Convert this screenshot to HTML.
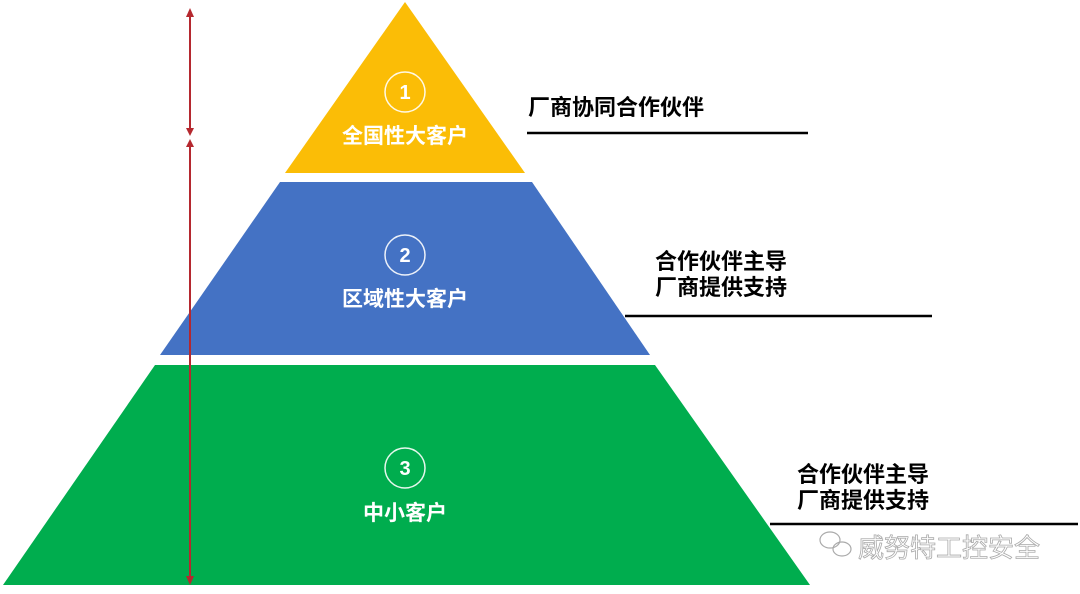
<!DOCTYPE html>
<html><head><meta charset="utf-8"><style>
html,body{margin:0;padding:0;background:#fff;}
svg{display:block;}
text{font-family:"Liberation Sans","Noto Sans CJK SC",sans-serif;font-weight:bold;}
</style></head><body>
<svg width="1080" height="594" viewBox="0 0 1080 594" xmlns="http://www.w3.org/2000/svg">
<polygon points="405,2 525,173 285,173" fill="#fbbd06"/>
<polygon points="280,182 532,182 650,355 160,355" fill="#4472c4"/>
<polygon points="155,365 655,365 810,585 3,585" fill="#00ad4e"/>
<g stroke="#b5282f" stroke-width="2" fill="#b5282f">
<line x1="190" y1="12" x2="190" y2="134"/>
<line x1="190" y1="141" x2="190" y2="582"/>
<polygon points="190,8 186,17 194,17" stroke="none"/>
<polygon points="190,136 186,128 194,128" stroke="none"/>
<polygon points="190,139 186,147 194,147" stroke="none"/>
<polygon points="190,585 186,576 194,576" stroke="none"/>
</g>
<g fill="none" stroke="#fff" stroke-width="1.5" opacity="0.9">
<circle cx="405" cy="92" r="20"/>
<circle cx="405" cy="255" r="20"/>
<circle cx="405" cy="468" r="20"/>
</g>
<g fill="#fff" text-anchor="middle" font-size="20">
<text x="405" y="99">1</text>
<text x="405" y="262">2</text>
<text x="405" y="475">3</text>
</g>
<g fill="#fff" text-anchor="middle" font-size="21">
<text x="405" y="143">全国性大客户</text>
<text x="405" y="306">区域性大客户</text>
<text x="405" y="520">中小客户</text>
</g>
<g stroke="#000" stroke-width="2.5">
<line x1="527" y1="133" x2="808" y2="133"/>
<line x1="625" y1="316" x2="932" y2="316"/>
<line x1="770" y1="524" x2="1078" y2="524"/>
</g>
<g fill="#000" font-size="22">
<text x="528" y="115">厂商协同合作伙伴</text>
<text x="655" y="269">合作伙伴主导</text>
<text x="655" y="295">厂商提供支持</text>
<text x="797" y="482">合作伙伴主导</text>
<text x="797" y="508">厂商提供支持</text>
</g>
<text x="858" y="557" font-size="26" fill="#fff" stroke="#aaa" stroke-width="0.8" style="font-weight:normal">威努特工控安全</text>
<g fill="none" stroke="#aaa" stroke-width="1.2">
<ellipse cx="830" cy="540" rx="10" ry="8"/>
<ellipse cx="842" cy="549" rx="9" ry="7"/>
</g>
</svg>
</body></html>
